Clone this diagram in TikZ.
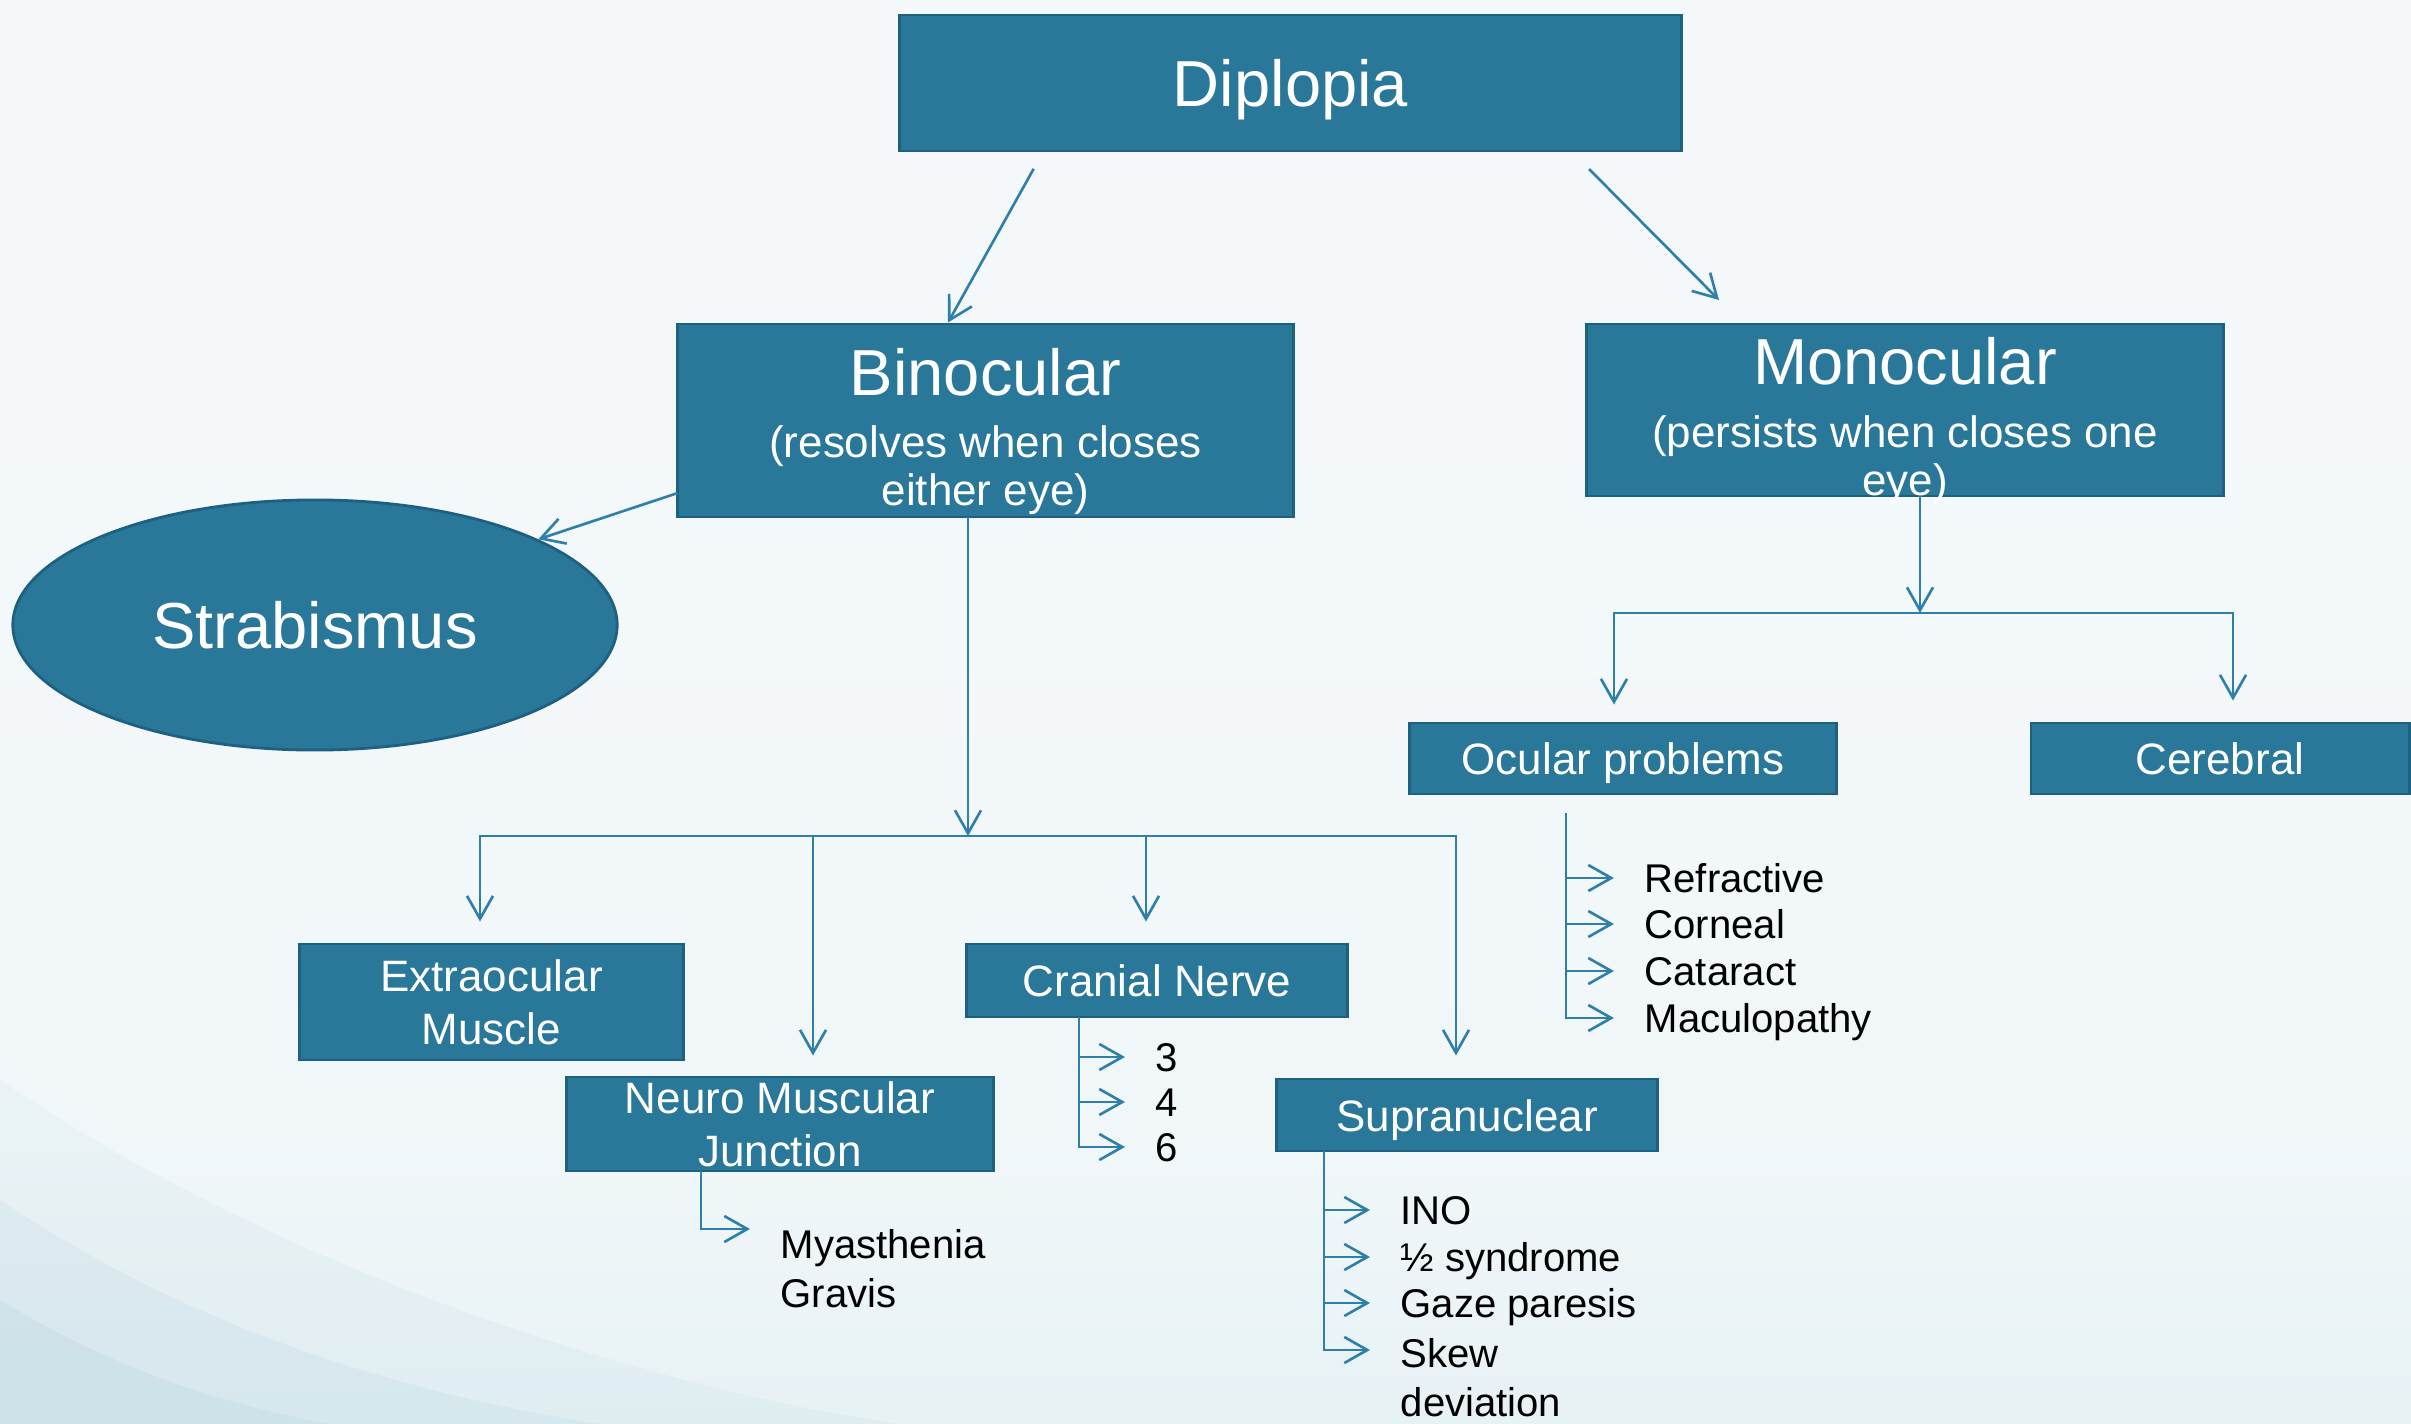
\documentclass[tikz,border=0pt]{standalone}
\usepackage{fontspec}
\setmainfont{Liberation Sans}
\usetikzlibrary{arrows.meta, shapes.geometric, calc}
\definecolor{boxfill}{HTML}{29789A}
\definecolor{boxline}{HTML}{1E6080}
\definecolor{linkblue}{HTML}{2E80A8}
\definecolor{bgtop}{HTML}{F8F9FC}
\definecolor{bgmid}{HTML}{F1F7F9}
\definecolor{bglow}{HTML}{DDECF1}
\definecolor{bgbot}{HTML}{C4DDE6}
\definecolor{bgswoosh}{HTML}{8DBCCD}
\newcommand{\titlesize}{\fontsize{18.5}{21}\selectfont}
\newcommand{\subsize}{\fontsize{12.5}{13.7}\selectfont}
\newcommand{\boxsize}{\fontsize{12.5}{15}\selectfont}
\newcommand{\entrysize}{\fontsize{11.4}{13.8}\selectfont}
\pgfdeclareverticalshading{slidebg}{100bp}{color(0bp)=(bgbot); color(15bp)=(bglow); color(35bp)=(bgmid); color(100bp)=(bgtop)}
\tikzset{
  mainbox/.style={rectangle, draw=boxline, fill=boxfill, line width=0.8pt,
                  text=white, inner sep=0pt, align=center},
  titlebox/.style={mainbox, font=\titlesize, text height=0.47cm, text depth=0cm},
  headbox/.style={mainbox, font=\subsize},
  twobox/.style={mainbox, font=\boxsize},
  onebox/.style={mainbox, font=\boxsize, text height=0.32cm, text depth=0cm},
  entry/.style={inner sep=0pt, text=black, font=\entrysize},
  entryline/.style={entry, anchor=west, text height=0.29cm, text depth=0cm},
  link/.style={draw=linkblue, line width=0.75pt, line cap=rect},
  arr/.style={link, -{Straight Barb[length=0.23cm, width=0.26cm]}},
  itemarr/.style={arr, shorten >=0.3cm},
}
\begin{document}
\begin{tikzpicture}[x=0.01cm, y=-0.01cm]
  % slide background
  \useasboundingbox (0,0) rectangle (2411,1424);
  \shade[shading=slidebg] (0,0) rectangle (2411,1424);
  \fill[bgswoosh, fill opacity=0.08] (0,1080) .. controls (250,1250) and (600,1380) .. (900,1424) -- (0,1424) -- cycle;
  \fill[bgswoosh, fill opacity=0.10] (0,1200) .. controls (180,1320) and (380,1390) .. (600,1424) -- (0,1424) -- cycle;
  \fill[bgswoosh, fill opacity=0.12] (0,1300) .. controls (100,1360) and (200,1400) .. (330,1424) -- (0,1424) -- cycle;

  % top levels
  \node[titlebox, minimum width=7.81cm, minimum height=1.36cm] (diplopia) at (1290.5,83) {Diplopia};
  \node[headbox, minimum width=6.15cm, minimum height=1.93cm] (binocular) at (985.5,420.5)
    {{\titlesize\rule{0pt}{0.6cm}Binocular}\\[0.14cm](resolves when closes\\\smash{either eye)}};
  \node[headbox, minimum width=6.36cm, minimum height=1.72cm] (monocular) at (1905,410)
    {{\titlesize\rule{0pt}{0.6cm}Monocular}\\[0.14cm](persists when closes one\\\smash{eye)}};
  \node[mainbox, ellipse, font=\titlesize, text height=0.47cm, text depth=0cm,
        minimum width=6.04cm, minimum height=2.5cm] (strabismus) at (315,625) {Strabismus};

  % causes
  \node[twobox, minimum width=3.83cm, minimum height=1.16cm] (extraocular) at (491.5,1002) {Extraocular\\Muscle};
  \node[twobox, minimum width=4.26cm, minimum height=0.94cm] (nmj) at (780,1124) {Neuro Muscular\\Junction};
  \node[onebox, minimum width=3.8cm, minimum height=0.73cm] (cranial) at (1157,980.5) {Cranial Nerve};
  \node[onebox, minimum width=3.8cm, minimum height=0.72cm] (supranuclear) at (1467,1115) {Supranuclear};
  \node[onebox, minimum width=4.26cm, minimum height=0.71cm] (ocular) at (1623,758.5) {Ocular problems};
  \node[onebox, minimum width=3.78cm, minimum height=0.71cm] (cerebral) at (2220,758.5) {Cerebral};

  % lists
  \node[entryline] (refractive) at (1644,878) {Refractive};
  \node[entryline] (corneal) at (1644,924) {Corneal};
  \node[entryline] (cataract) at (1644,971) {Cataract};
  \node[entryline] (maculopathy) at (1644,1018) {Maculopathy};
  \node[entryline] (cn3) at (1155,1057) {3};
  \node[entryline] (cn4) at (1155,1102) {4};
  \node[entryline] (cn6) at (1155,1147) {6};
  \node[entryline] (ino) at (1400,1210) {INO};
  \node[entryline] (onehalf) at (1400,1257) {½ syndrome};
  \node[entryline] (gaze) at (1400,1303) {Gaze paresis};
  \node[entry, anchor=north west, align=left] (skew) at (1400,1338) {Skew\\deviation};
  \node[entry, anchor=north west, align=left] (myasthenia) at (780,1229) {Myasthenia\\Gravis};

  % arrows from the top
  \coordinate (dipBin) at (1033,170);
  \coordinate (dipMon) at (1590,170);
  \coordinate (monIn) at (1719,300);
  \draw[arr] (dipBin) -- (binocular.north -| 948,0);
  \draw[arr] (dipMon) -- (monIn);
  \draw[arr] ([yshift=0.25cm]binocular.south west) -- (strabismus.21);

  % binocular branches
  \coordinate (binoHub) at (968,836);
  \draw[arr] (binocular.south -| binoHub) -- (binoHub);
  \draw[link] (480,836) -- (1456,836);
  \draw[arr, shorten >=0.21cm] (480,836) -- (extraocular.north -| 480,0);
  \draw[arr, shorten >=0.2cm] (813,836) -- (nmj.north -| 813,0);
  \draw[arr, shorten >=0.21cm] (1146,836) -- (cranial.north -| 1146,0);
  \draw[arr, shorten >=0.22cm] (1456,836) -- (supranuclear.north -| 1456,0);

  % monocular branches
  \coordinate (monoHub) at (1920,613);
  \draw[arr] (monocular.south -| monoHub) -- (monoHub);
  \draw[link] (1614,613) -- (2233,613);
  \draw[arr, shorten >=0.17cm] (1614,613) -- (ocular.north -| 1614,0);
  \draw[arr, shorten >=0.21cm] (2233,613) -- (cerebral.north -| 2233,0);

  % list arrows
  \draw[itemarr] (1566,814) |- (maculopathy.west);
  \draw[itemarr] (1566,0 |- refractive.west) -- (refractive.west);
  \draw[itemarr] (1566,0 |- corneal.west) -- (corneal.west);
  \draw[itemarr] (1566,0 |- cataract.west) -- (cataract.west);

  \draw[itemarr] (cranial.south -| 1079,0) |- (cn6.west);
  \draw[itemarr] (1079,0 |- cn3.west) -- (cn3.west);
  \draw[itemarr] (1079,0 |- cn4.west) -- (cn4.west);

  \draw[itemarr] (supranuclear.south -| 1324,0) |- ([yshift=-0.12cm]skew.north west);
  \draw[itemarr] (1324,0 |- ino.west) -- (ino.west);
  \draw[itemarr] (1324,0 |- onehalf.west) -- (onehalf.west);
  \draw[itemarr] (1324,0 |- gaze.west) -- (gaze.west);

  \draw[itemarr] (nmj.south -| 701,0) |- (myasthenia.north west);
\end{tikzpicture}
\end{document}
